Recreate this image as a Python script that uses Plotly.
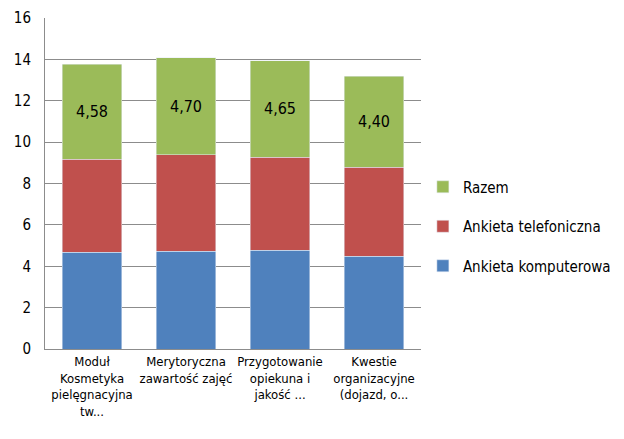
import plotly.graph_objects as go

categories = [
    "Moduł<br>Kosmetyka<br>pielęgnacyjna<br>tw...",
    "Merytoryczna<br>zawartość zajęć",
    "Przygotowanie<br>opiekuna i<br>jakość ...",
    "Kwestie<br>organizacyjne<br>(dojazd, o...",
]
komputerowa = [4.67, 4.72, 4.77, 4.48]
telefoniczna = [4.51, 4.66, 4.51, 4.30]
razem = [4.58, 4.70, 4.65, 4.40]
y_ticks = [0, 2, 4, 6, 8, 10, 12, 14, 16]

font = "DejaVu Sans Condensed, Liberation Sans Narrow, sans-serif"

fig = go.Figure()
fig.add_trace(go.Bar(x=categories, y=komputerowa, name="Ankieta komputerowa",
                     marker_color="#4F81BD", legendgroup="a", legendrank=3))
fig.add_trace(go.Bar(x=categories, y=telefoniczna, name="Ankieta telefoniczna",
                     marker_color="#C0504D", legendgroup="b", legendrank=2))
fig.add_trace(go.Bar(
    x=categories, y=razem, name="Razem", marker_color="#9BBB59",
    legendgroup="c", legendrank=1,
    text=[f"{v:.2f}".replace(".", ",") for v in razem],
    textposition="inside", insidetextanchor="middle",
    textfont=dict(size=16, color="black", family=font),
))

# the page body has an 8px margin, so the figure is drawn 8px smaller
fig.update_layout(
    barmode="stack",
    bargap=0.37,
    width=616,
    height=431,
    margin=dict(l=37, r=203, t=10, b=90, autoexpand=False),
    paper_bgcolor="white",
    plot_bgcolor="white",
    font=dict(family=font, size=15, color="black"),
    showlegend=True,
    legend=dict(
        traceorder="grouped",
        tracegroupgap=17,
        x=1.005, xanchor="left",
        y=0.37, yanchor="middle",
        font=dict(size=15, family=font),
        itemwidth=30,
    ),
)
fig.update_yaxes(
    range=[0, 16], tickvals=y_ticks, showgrid=True, gridcolor="#8c8c8c",
    gridwidth=1, showline=True, linecolor="#8c8c8c", ticks="",
    ticklabelstandoff=10, tickfont=dict(size=15), zeroline=False,
    automargin=False, ticklabeloverflow="allow",
)
fig.update_xaxes(
    showline=True, linecolor="#8c8c8c", linewidth=1, ticks="",
    tickfont=dict(size=13), tickangle=0, automargin=False,
)

fig.write_html("out.html")
